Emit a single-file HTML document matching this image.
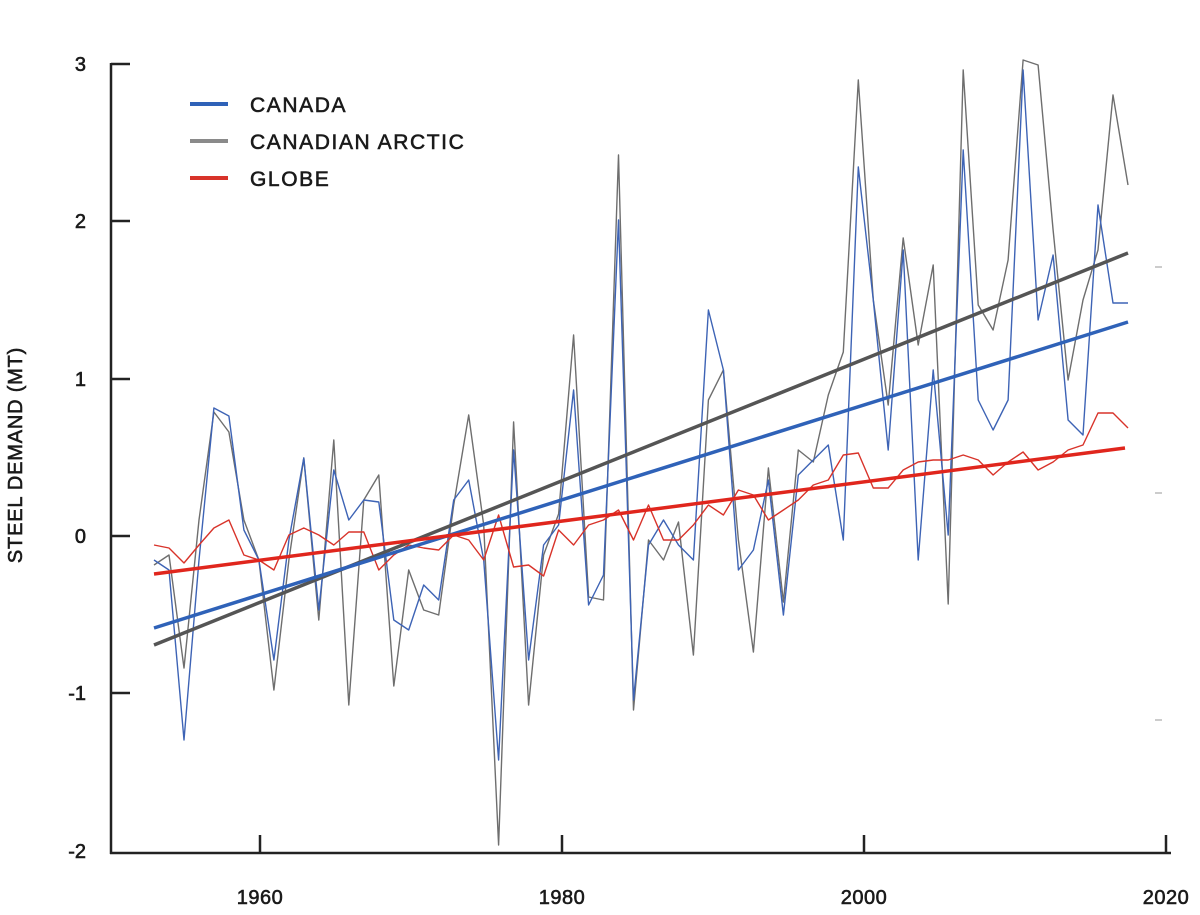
<!DOCTYPE html>
<html><head><meta charset="utf-8"><style>
html,body{margin:0;padding:0;background:#fff;}
svg{display:block;font-family:"Liberation Sans",sans-serif;}
</style></head><body>
<svg id="c" width="1200" height="915" viewBox="0 0 1200 915" xmlns="http://www.w3.org/2000/svg">
<rect width="1200" height="915" fill="#fff"/>
<g stroke="#222" stroke-width="2.5" fill="none">
<line x1="111" y1="63" x2="111" y2="854"/>
<line x1="110" y1="853" x2="1171" y2="853"/>
<line x1="111" y1="64" x2="130" y2="64"/>
<line x1="111" y1="221" x2="130" y2="221"/>
<line x1="111" y1="379" x2="130" y2="379"/>
<line x1="111" y1="536" x2="130" y2="536"/>
<line x1="111" y1="693" x2="130" y2="693"/>
<line x1="260" y1="853" x2="260" y2="835"/>
<line x1="562" y1="853" x2="562" y2="835"/>
<line x1="864" y1="853" x2="864" y2="835"/>
<line x1="1166" y1="853" x2="1166" y2="835"/>
</g>
<g stroke="#ccc" stroke-width="2">
<line x1="1155" y1="267" x2="1162" y2="267"/>
<line x1="1155" y1="493" x2="1162" y2="493"/>
<line x1="1155" y1="720" x2="1162" y2="720"/>
</g>
<g font-size="20" fill="#1a1a1a" text-anchor="end" stroke="#1a1a1a" stroke-width="0.6">
<text x="86" y="71">3</text><text x="86" y="228">2</text><text x="86" y="386">1</text>
<text x="86" y="543">0</text><text x="86" y="700">-1</text><text x="86" y="858">-2</text>
</g>
<g font-size="20" fill="#1a1a1a" text-anchor="middle" stroke="#1a1a1a" stroke-width="0.6" letter-spacing="0.5">
<text x="260" y="904">1960</text><text x="562" y="904">1980</text><text x="864" y="904">2000</text><text x="1166" y="904">2020</text>
</g>
<text transform="translate(22,455) rotate(-90)" font-size="20" fill="#1a1a1a" text-anchor="middle" stroke="#1a1a1a" stroke-width="0.6" letter-spacing="0.8">STEEL DEMAND (MT)</text>
<g stroke-width="4">
<line x1="190" y1="104" x2="228" y2="104" stroke="#2f62b8"/>
<line x1="190" y1="141" x2="228" y2="141" stroke="#8a8a8a"/>
<line x1="190" y1="178" x2="228" y2="178" stroke="#d8332a"/>
</g>
<g font-size="21" fill="#1a1a1a" letter-spacing="1.6" stroke="#1a1a1a" stroke-width="0.6">
<text x="250" y="112">CANADA</text><text x="250" y="149">CANADIAN ARCTIC</text><text x="250" y="186">GLOBE</text>
</g>
<g id="series" fill="none" stroke-linejoin="round"></g>
<line x1="154" y1="645" x2="1128" y2="253" stroke="#555" stroke-width="3.5"/>
<line x1="154" y1="628" x2="1128" y2="322" stroke="#2f62b8" stroke-width="3.5"/>
<line x1="154" y1="574" x2="1125" y2="448" stroke="#e0261d" stroke-width="3.5"/>
</svg>
<script>
var gray=[565,555,668,520,412,432,520,560,690,560,458,620,440,705,500,475,686,570,610,615,505,415,525,845,422,705,555,514,335,597,600,155,710,540,560,522,655,400,370,540,652,468,602,450,462,395,352,80,300,405,238,345,265,604,70,305,330,260,60,65,230,380,300,250,95,185];
var blue=[560,570,740,560,408,416,530,560,660,540,458,610,470,520,500,502,620,630,585,600,500,480,560,760,450,660,545,525,390,605,575,220,700,545,520,545,560,310,370,570,550,480,615,475,460,445,540,167,300,450,250,560,370,535,150,400,430,400,70,320,255,420,435,205,303,303];
var red=[545,548,563,545,528,520,555,560,570,535,528,535,545,532,532,570,555,545,548,550,535,540,560,515,567,565,576,530,545,525,520,510,540,505,540,540,525,505,515,490,495,520,510,500,485,480,455,453,488,488,470,462,460,460,455,460,475,462,452,470,462,450,445,413,413,428];
function pts(a){var n=a.length,s=(1128-154)/(n-1);return a.map(function(v,i){return (154+i*s).toFixed(1)+","+v;}).join(" ");}
var g=document.getElementById("series"),ns="http://www.w3.org/2000/svg";
[[gray,"#6e6e6e"],[blue,"#3d63b5"],[red,"#d8332a"]].forEach(function(d){var p=document.createElementNS(ns,"polyline");p.setAttribute("points",pts(d[0]));p.setAttribute("stroke",d[1]);p.setAttribute("stroke-width","1.4");g.appendChild(p);});
</script>
</body></html>
